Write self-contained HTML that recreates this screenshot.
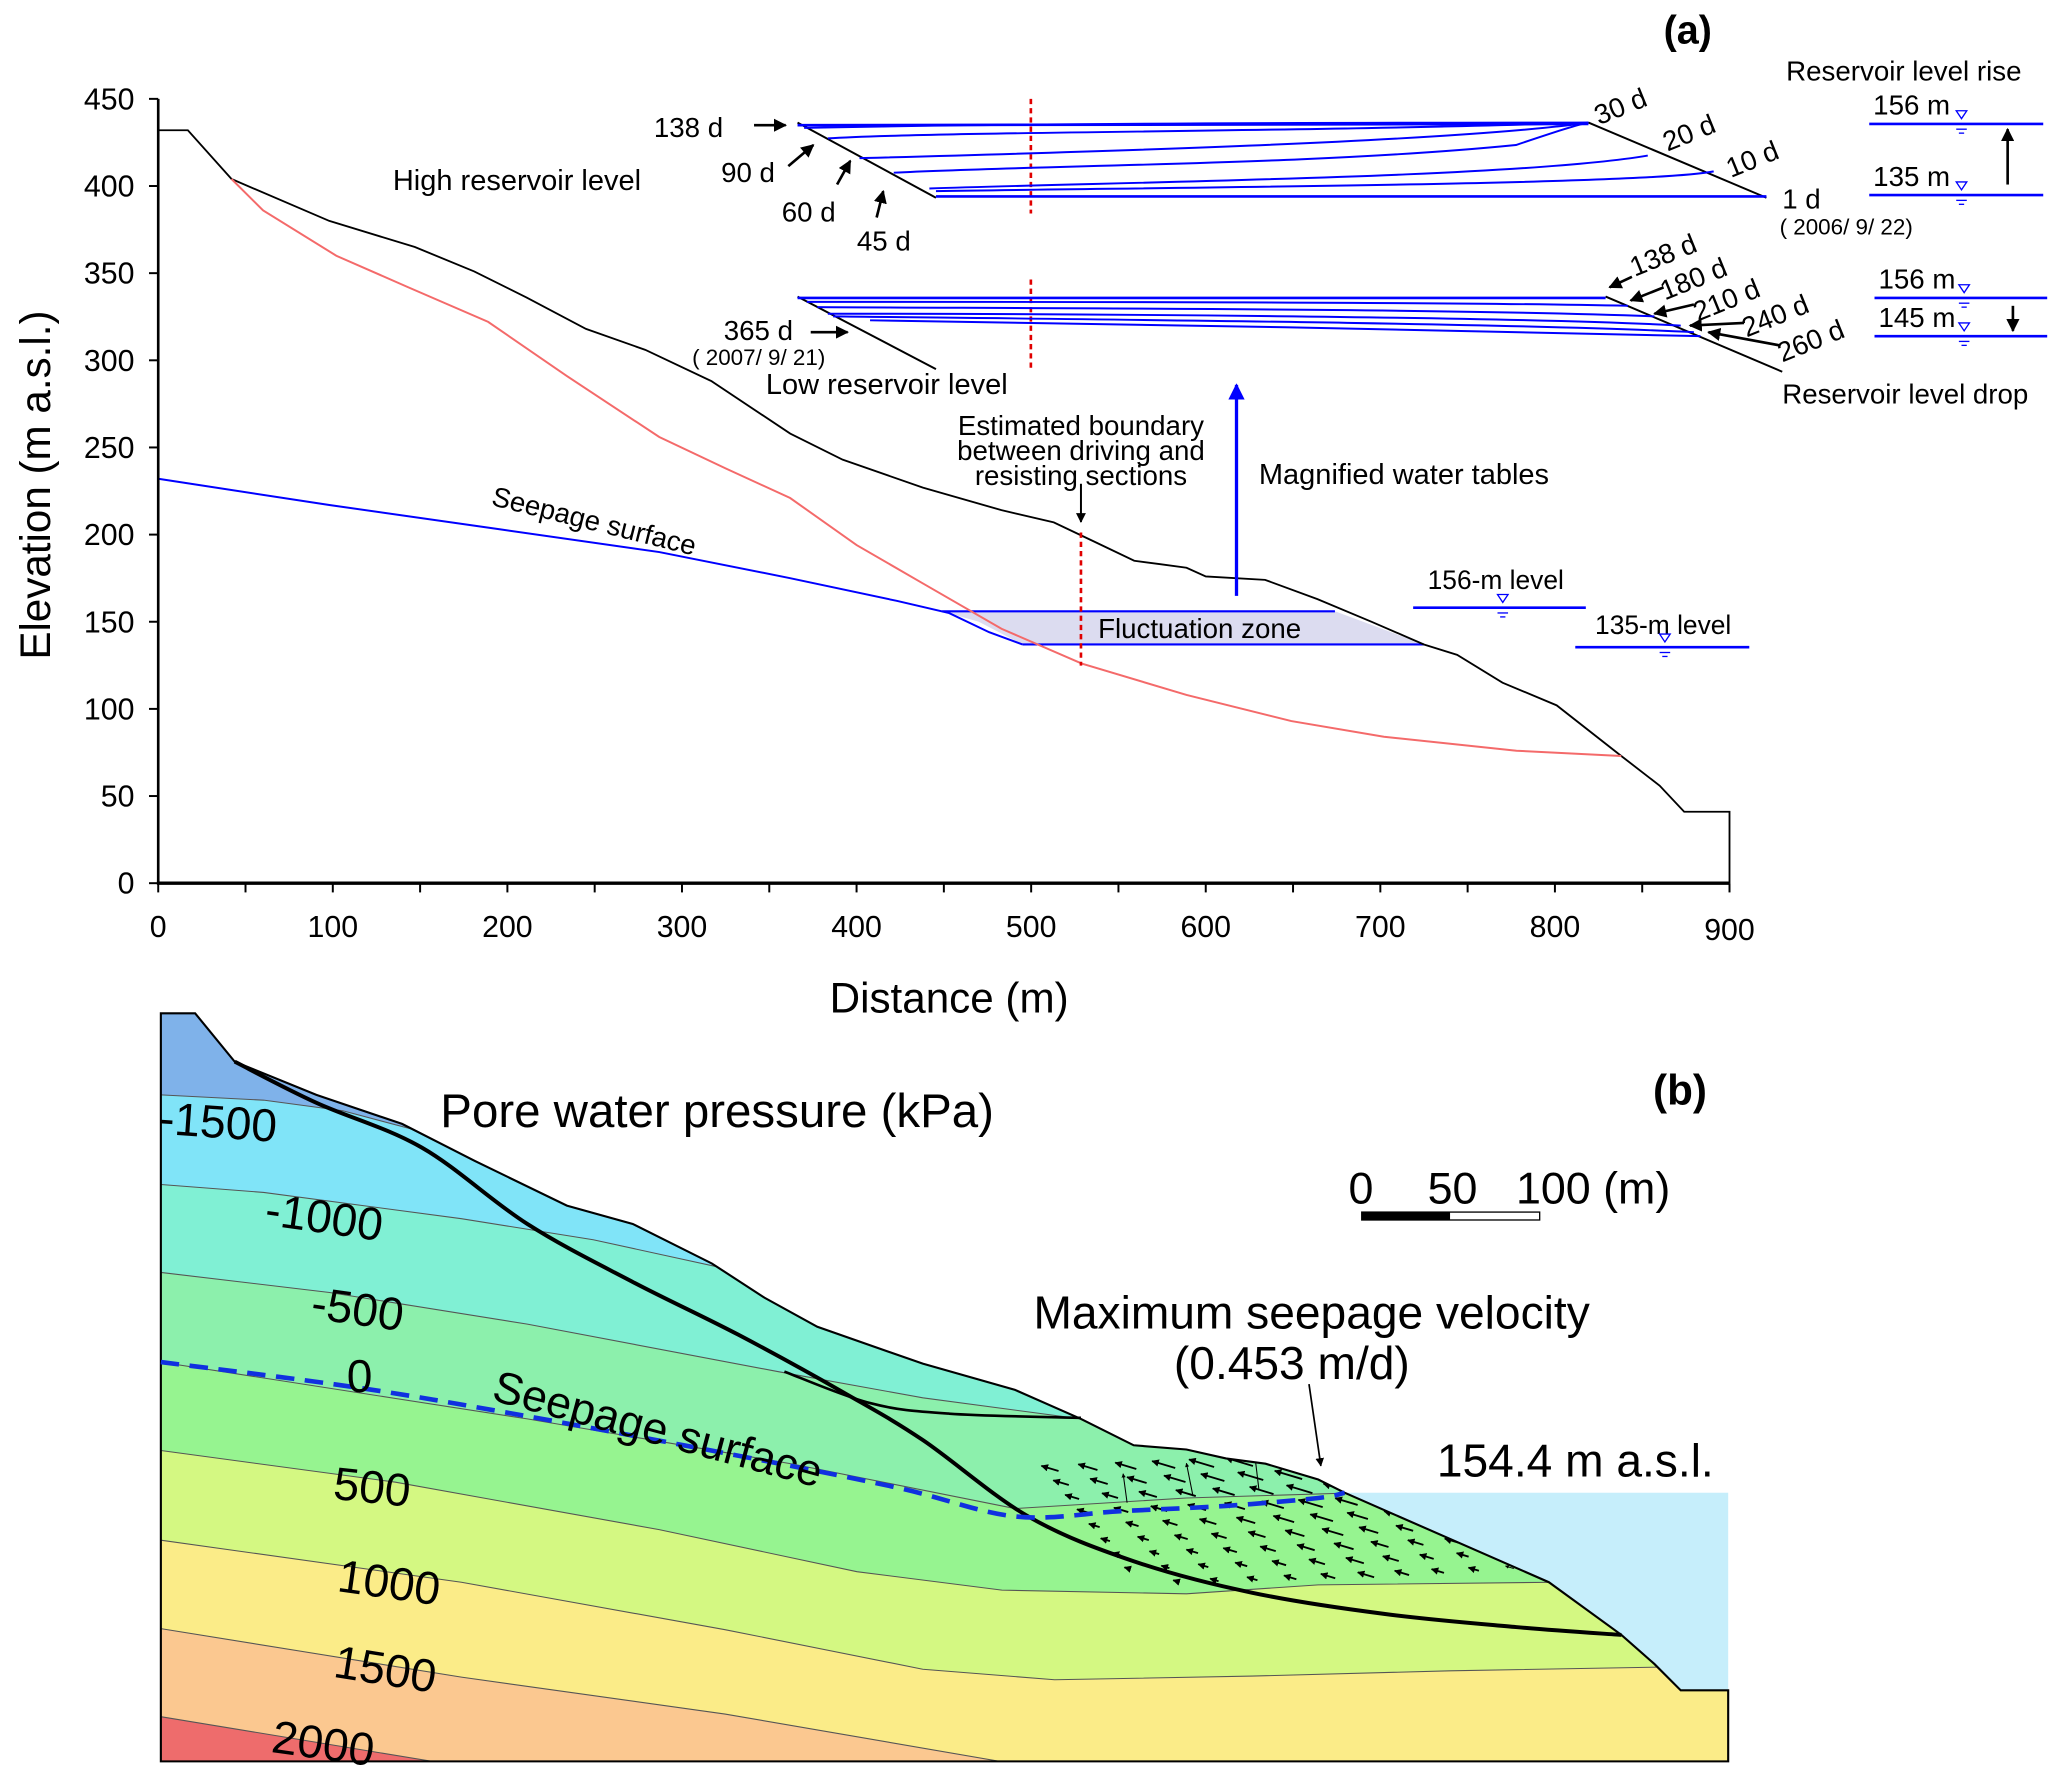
<!DOCTYPE html>
<html><head><meta charset="utf-8"><style>
html,body{margin:0;padding:0;background:#fff;}
svg{display:block;font-family:"Liberation Sans",Arial,sans-serif;}
</style></head><body>
<svg id="fig" width="2067" height="1776" viewBox="0 0 1568 1347.3" xmlns="http://www.w3.org/2000/svg">
<defs>
<marker id="ah" viewBox="0 0 10 10" refX="9" refY="5" markerWidth="5" markerHeight="5" orient="auto"><path d="M0,0 L10,5 L0,10 z" fill="#000"/></marker>
<marker id="ahb" viewBox="0 0 10 10" refX="9" refY="5" markerWidth="5" markerHeight="6" orient="auto"><path d="M0,0 L10,5 L0,10 z" fill="#0000ff"/></marker>
<marker id="ahs" viewBox="0 0 10 10" refX="9" refY="5" markerWidth="4" markerHeight="4" orient="auto"><path d="M0,0 L10,5 L0,10 z" fill="#000"/></marker>
</defs>
<g id="panelA"></g>
<g id="panelB"></g>
</svg>
<script>
// ---------- Panel (a) data ----------
const xTicks = [0,100,200,300,400,500,600,700,800,900];
const yTicks = [0,50,100,150,200,250,300,350,400,450];
const terrainX = [0,17,42,98,147,181,211,245,279,317,362,392,438,483,513,536,559,574,589,600,634,664,695,725,744,770,801,838,860,874,900,900];
const terrainY = [432,432,404,380,365,351,336,318,306,288,258,243,227,214,207,196,185,183,181,176,174,163,150,137,131,115,102,73,56,41,41,0];
const slipX = [42,60,102,143,189,234,287,325,362,400,438,483,529,589,649,702,778,838];
const slipY = [404,386,360,342,322,291,256,238,221,194,172,146,126,108,93,84,76,73];
const seepX = [0,98,196,287,362,423,453,476,495];
const seepY = [232,217,203,190,175,162,155,144,137];
const fluctTop = [449,674,156];
const fluctBot = [495,725,137];

const NS="http://www.w3.org/2000/svg";
const sx = v => 120 + v*(1312-120)/900;
const sy = v => 670 - v*(670-75)/450;
function mk(parent, tag, attrs, text){
  const e=document.createElementNS(NS,tag);
  for(const k in attrs) e.setAttribute(k,attrs[k]);
  if(text!==undefined) e.textContent=text;
  parent.appendChild(e); return e;
}
const A=document.getElementById('panelA');
const pts=(xs,ys)=>xs.map((x,i)=>sx(x).toFixed(1)+','+sy(ys[i]).toFixed(1)).join(' ');

let fz=mk(A,'polygon',{points:`${sx(fluctTop[0])},${sy(fluctTop[2])} ${sx(fluctTop[1])},${sy(fluctTop[2])} ${sx(fluctBot[1])},${sy(fluctBot[2])} ${sx(fluctBot[0])},${sy(fluctBot[2])} ${sx(470)},${sy(150)}`,fill:'#dcdcf0',stroke:'none'});


let l;
l=mk(A,'line',{x1:sx(fluctTop[0]),y1:sy(fluctTop[2]),x2:sx(fluctTop[1]),y2:sy(fluctTop[2]),stroke:'#0000ff','stroke-width':1.6});


l=mk(A,'line',{x1:sx(fluctBot[0]),y1:sy(fluctBot[2]),x2:sx(fluctBot[1]),y2:sy(fluctBot[2]),stroke:'#0000ff','stroke-width':1.6});



let p=mk(A,'polyline',{points:pts(terrainX,terrainY),fill:'none',stroke:'#000','stroke-width':1.4});


p=mk(A,'polyline',{points:pts(slipX,slipY),fill:'none',stroke:'#f46a6a','stroke-width':1.5});


p=mk(A,'polyline',{points:pts(seepX,seepY),fill:'none',stroke:'#0000ff','stroke-width':1.5});



l=mk(A,'line',{x1:120,y1:75,x2:120,y2:671,stroke:'#000','stroke-width':2});


l=mk(A,'line',{x1:119,y1:670,x2:1312,y2:670,stroke:'#000','stroke-width':2.5});


yTicks.forEach(v=>{
  mk(A,'line',{x1:113,y1:sy(v),x2:120,y2:sy(v),stroke:'#000','stroke-width':1.5});
  const t=mk(A,'text',{x:102,y:sy(v)+8,'text-anchor':'end','font-size':23},String(v));
  
  
});
for(let v=0;v<=900;v+=50){ mk(A,'line',{x1:sx(v),y1:670,x2:sx(v),y2:677,stroke:'#000','stroke-width':1.5}); }
xTicks.forEach(v=>{
  const t=mk(A,'text',{x:sx(v),y:v==900?713:711,'text-anchor':'middle','font-size':23},String(v));
  
  
});
</script>
<script>
(function(){
const NS="http://www.w3.org/2000/svg";
const A=document.getElementById('panelA');
function mk(parent, tag, attrs, text){const e=document.createElementNS(NS,tag);for(const k in attrs)e.setAttribute(k,attrs[k]);if(text!==undefined)e.textContent=text;parent.appendChild(e);return e;}
function T(x,y,s,str,name,extra){const t=mk(A,'text',Object.assign({x:x,y:y,'font-size':s},extra||{}),str);return t;}
function L(x1,y1,x2,y2,c,w,extra){return mk(A,'line',Object.assign({x1,y1,x2,y2,stroke:c,'stroke-width':w},extra||{}));}
function P(d,c,w,extra){return mk(A,'path',Object.assign({d,fill:'none',stroke:c,'stroke-width':w},extra||{}));}
const B='#0000ff';
T(720,768,32,'Distance (m)','x-axis-title',{'text-anchor':'middle'});
T(38,368,32,'Elevation (m a.s.l.)','y-axis-title',{'text-anchor':'middle',transform:'rotate(-90 38 368)'});
T(1262,33,30,'(a)','panel-a-label',{'font-weight':'bold'});
L(820,404,820,505,'#e00000',2,{'stroke-dasharray':'4,3'});
L(782,75,782,162,'#e00000',2,{'stroke-dasharray':'4,3'});
L(782,212,782,282,'#e00000',2,{'stroke-dasharray':'4,3'});
L(605,93,710,150,'#000',1.5); L(1205,93,1340,150,'#000',1.5);
P('M605,95 L1205,94',B,2); P('M610,97 C800,93 1100,93 1205,93',B,1.5);
P('M628,105 C700,100 1000,100 1205,93',B,1.5);
P('M652,120 C800,116 1100,108 1205,93',B,1.5);
P('M678,131 C800,125 1000,125 1150,110 C1180,100 1195,95 1205,93',B,1.5);
P('M705,143 C850,138 1150,135 1250,118',B,1.5);
P('M710,145 C900,142 1250,140 1300,130',B,1.5);
P('M710,149 L1340,149',B,2);
L(605,225,710,280,'#000',1.5); L(1218,225,1352,282,'#000',1.5);
P('M605,226 L1218,226',B,2);
P('M612,229 C800,229 1100,229 1235,232',B,1.5);
P('M620,233 C800,234 1100,234 1255,240',B,1.5);
P('M628,238 C800,238 1150,240 1275,247',B,1.5);
P('M632,240 C800,242 1150,245 1285,252',B,1.5);
P('M660,243 C800,244 1150,252 1290,255',B,1.5);
T(496,104,21,'138 d','label-138d');
L(572,95,596,95,'#000',2,{'marker-end':'url(#ah)'});
T(547,138,21,'90 d','label-90d'); L(598,126,617,110,'#000',2,{'marker-end':'url(#ah)'});
T(593,168,21,'60 d','label-60d'); L(635,140,645,122,'#000',2,{'marker-end':'url(#ah)'});
T(650,190,21,'45 d','label-45d'); L(665,165,670,145,'#000',2,{'marker-end':'url(#ah)'});
T(1213,95,21,'30 d','label-30d',{transform:'rotate(-22 1213 95)'});
T(1265,115,21,'20 d','label-20d',{transform:'rotate(-22 1265 115)'});
T(1313,135,21,'10 d','label-10d',{transform:'rotate(-22 1313 135)'});
T(1352,158,21,'1 d','label-1d');
T(1350,178,17,'( 2006/ 9/ 22)','label-date-2006');
T(298,144,22,'High reservoir level','high-reservoir-level-label');
T(549,258,21,'365 d','label-365d'); L(615,252,643,252,'#000',2,{'marker-end':'url(#ah)'});
T(525,277,17,'( 2007/ 9/ 21)','label-date-2007');
T(581,299,22,'Low reservoir level','low-reservoir-level-label');
T(1240,210,21,'138 d','label-138d-drop',{transform:'rotate(-22 1240 210)'});
T(1263,228,21,'180 d','label-180d',{transform:'rotate(-22 1263 228)'});
T(1288,244,21,'210 d','label-210d',{transform:'rotate(-22 1288 244)'});
T(1325,256,21,'240 d','label-240d',{transform:'rotate(-22 1325 256)'});
T(1352,275,21,'260 d','label-260d',{transform:'rotate(-22 1352 275)'});
L(1238,210,1221,218,'#000',2,{'marker-end':'url(#ah)'});
L(1262,218,1237,228,'#000',2,{'marker-end':'url(#ah)'});
L(1285,231,1255,238,'#000',2,{'marker-end':'url(#ah)'});
L(1323,245,1282,247,'#000',2,{'marker-end':'url(#ah)'});
L(1350,262,1296,252,'#000',2,{'marker-end':'url(#ah)'});
T(1352,306,21,'Reservoir level drop','reservoir-level-drop-label');
T(1355,61,21,'Reservoir level rise','reservoir-level-rise-label');
function lvl(x1,x2,y,tx,lab,name){
  L(x1,y,x2,y,B,2);
  mk(A,'path',{d:`M${tx-4},${y-10} L${tx+4},${y-10} L${tx},${y-4} z`,fill:'none',stroke:B,'stroke-width':1});
  L(tx-4,y+4,tx+4,y+4,B,1); L(tx-2,y+7,tx+2,y+7,B,1);
  if(lab) T(x1+3,y-7,21,lab,name);
}
lvl(1418,1550,94,1488,'156 m','level-156-rise');
lvl(1418,1550,148,1488,'135 m','level-135-rise');
L(1523,140,1523,98,'#000',2,{'marker-end':'url(#ah)'});
lvl(1422,1553,226,1490,'156 m','level-156-drop');
lvl(1422,1553,255,1490,'145 m','level-145-drop');
L(1527,232,1527,251,'#000',2,{'marker-end':'url(#ah)'});
T(820,330,21,'Estimated boundary','boundary-label-1',{'text-anchor':'middle'});
T(820,349,21,'between driving and','boundary-label-2',{'text-anchor':'middle'});
T(820,368,21,'resisting sections','boundary-label-3',{'text-anchor':'middle'});
L(820,367,820,396,'#000',1.5,{'marker-end':'url(#ah)'});
L(938,452,938,292,B,2.5,{'marker-end':'url(#ahb)'});
T(955,367,22,'Magnified water tables','magnified-water-tables-label');
T(372,383,21,'Seepage surface','seepage-surface-label-a',{transform:'rotate(14 372 383)'});
T(833,484,21,'Fluctuation zone','fluctuation-zone-label');
T(1083,447,20,'156-m level','level-156m-label');
lvl(1072,1203,461,1140,null,'');
T(1210,481,20,'135-m level','level-135m-label');
lvl(1195,1327,491,1263,null,'');
})();
</script>
<script>
// ---------- Panel (b) ----------
const contourLabels = ['-1500','-1000','-500','0','500','1000','1500','2000'];
const bandColors = ['#7fb2ea','#80e4f8','#80f0d4','#8cf0ac','#96f490','#d4f882','#fbec88','#fbc890','#ee6c6c'];
(function(){
const NS="http://www.w3.org/2000/svg";
const G=document.getElementById('panelB');
function mk(parent, tag, attrs, text){const e=document.createElementNS(NS,tag);for(const k in attrs)e.setAttribute(k,attrs[k]);if(text!==undefined)e.textContent=text;parent.appendChild(e);return e;}
const yz = v => 720.7 + v*0.3997;
const conv = arr => arr.map(p=>[p[0], yz(p[1])]);
const terr = conv([[122,120],[148,120],[178,212],[240,275],[305,330],[360,400],[430,485],[480,520],[540,595],[580,660],[620,715],[700,785],[770,835],[820,890],[860,940],[900,948],[930,965],[960,975],[1000,1005],[1020,1030],[1175,1200],[1230,1300],[1255,1355],[1275,1405],[1311,1405],[1311,1540],[122,1540]]);
const ps = a => a.map(p=>p[0].toFixed(1)+','+p[1].toFixed(1)).join(' ');
function smooth(a){ // catmull-rom
  let d='M'+a[0][0].toFixed(1)+','+a[0][1].toFixed(1);
  for(let i=0;i<a.length-1;i++){
    const p0=a[Math.max(0,i-1)],p1=a[i],p2=a[i+1],p3=a[Math.min(a.length-1,i+2)];
    const c1=[p1[0]+(p2[0]-p0[0])/6,p1[1]+(p2[1]-p0[1])/6];
    const c2=[p2[0]-(p3[0]-p1[0])/6,p2[1]-(p3[1]-p1[1])/6];
    d+=` C${c1[0].toFixed(1)},${c1[1].toFixed(1)} ${c2[0].toFixed(1)},${c2[1].toFixed(1)} ${p2[0].toFixed(1)},${p2[1].toFixed(1)}`;
  }
  return d;
}
const cp = mk(mk(G,'defs',{}),'clipPath',{id:'soil'});
mk(cp,'polygon',{points:ps(terr)});
let w=mk(G,'polygon',{points:ps(conv([[1020,1030],[1311,1030],[1311,1405],[1275,1405],[1255,1355],[1230,1300],[1175,1200]])),fill:'#c6eefb'});


const lines = [
 [[122,275],[200,285],[260,305],[320,345]],
 [[122,445],[200,460],[350,510],[450,550],[560,610]],
 [[122,612],[250,650],[400,710],[590,800],[700,850],[850,900]],
 [[122,782],[400,890],[600,975],[770,1060],[900,1040],[1030,1030]],
 [[122,950],[300,1010],[500,1100],[650,1180],[760,1215],[900,1222],[1000,1205],[1180,1200]],
 [[122,1120],[350,1200],[550,1290],[700,1365],[800,1385],[950,1378],[1100,1368],[1280,1360]],
 [[122,1288],[350,1380],[550,1450],[770,1545]],
 [[122,1455],[340,1545]]
];
const gb=mk(G,'g',{'clip-path':'url(#soil)'});
let prev=[[100,0],[1400,0]];
for(let i=0;i<=lines.length;i++){
  const cur = i<lines.length ? lines[i].concat([[1400,lines[i][lines[i].length-1][1]]]) : [[100,1600],[1400,1600]];
  const curFull=[[100,cur[0][1]]].concat(cur);
  const poly = conv(prev).concat(conv(curFull).reverse());
  const b=mk(gb,'polygon',{points:ps(poly),fill:bandColors[i]});
  
  
  prev=curFull;
}
lines.forEach(ln=>{const c=mk(gb,'polyline',{points:ps(conv(ln)),fill:'none',stroke:'#555','stroke-width':0.8});
 
 });
const ga=mk(gb,'g',{});
for(let i=0;i<9;i++){for(let j=0;j<14;j++){
  const x=790+j*28+i*9, y=1112+i*11-j*1.2;
  const len = 22 - Math.abs(j-6)*1.5 - i*1.2;
  if(len<4) continue;
  const a=mk(ga,'line',{x1:x+len,y1:y+len*0.3,x2:x,y2:y,stroke:'#000','stroke-width':j<10?1.4:0.7,'marker-end':'url(#ahs)'});
  
  
}}
[[905,1135,900,1110],[955,1130,952,1105],[855,1140,852,1118]].forEach(c=>{
  const a=mk(ga,'line',{x1:c[0],y1:c[1],x2:c[2],y2:c[3],stroke:'#000','stroke-width':0.8,'marker-end':'url(#ahs)'});
  
  
});
let o=mk(G,'polygon',{points:ps(terr),fill:'none',stroke:'#000','stroke-width':1.6});


let s=mk(G,'path',{d:smooth(conv([[178,212],[240,290],[320,375],[400,520],[480,630],[560,730],[640,840],[700,930],[780,1075],[860,1160],[950,1220],[1050,1260],[1150,1285],[1230,1300]])),fill:'none',stroke:'#000','stroke-width':3});


s=mk(G,'path',{d:smooth(conv([[595,800],[660,860],[720,880],[820,888]])),fill:'none',stroke:'#000','stroke-width':2});


s=mk(G,'path',{d:smooth(conv([[122,782],[270,830],[400,885],[550,955],[680,1020],[770,1075],[850,1065],[930,1055],[1000,1040],[1020,1030]])),fill:'none',stroke:'#1030e0','stroke-width':3.5,'stroke-dasharray':'14,8'});


function T(x,y,sz,str,name,extra){const t=mk(G,'text',Object.assign({x:x,y:y,'font-size':sz},extra||{}),str);return t;}
const lp=[[120,860,4],[200,929,8],[235,1000,8],[263,1056,0],[252,1137,6],[255,1207,8],[252,1272,9],[205,1329,8]];
contourLabels.forEach((c,i)=>T(lp[i][0],lp[i][1],35,c,'contour-label',{transform:`rotate(${lp[i][2]} ${lp[i][0]} ${lp[i][1]})`}));
T(334,855,36,'Pore water pressure (kPa)','pwp-title');
T(1254,838,32,'(b)','panel-b-label',{'font-weight':'bold'});
T(1023,913,34,'0','scale-0'); T(1083,913,34,'50','scale-50'); T(1150,913,34,'100 (m)','scale-100');
mk(G,'rect',{x:1033,y:919.5,width:135,height:6,fill:'#fff',stroke:'#000','stroke-width':1});
mk(G,'rect',{x:1033,y:919.5,width:67,height:6,fill:'#000'});
T(995,1008,35,'Maximum seepage velocity','max-velocity-label',{'text-anchor':'middle'});
T(980,1046,35,'(0.453 m/d)','max-velocity-value',{'text-anchor':'middle'});
mk(G,'line',{x1:993,y1:1050,x2:1002,y2:1112,stroke:'#000','stroke-width':1.3,'marker-end':'url(#ah)'});
T(1090,1120,35,'154.4 m a.s.l.','water-level-label');
T(372,1062,34,'Seepage surface','seepage-surface-label-b',{transform:'rotate(15 372 1062)'});
})();
</script>
</body></html>
